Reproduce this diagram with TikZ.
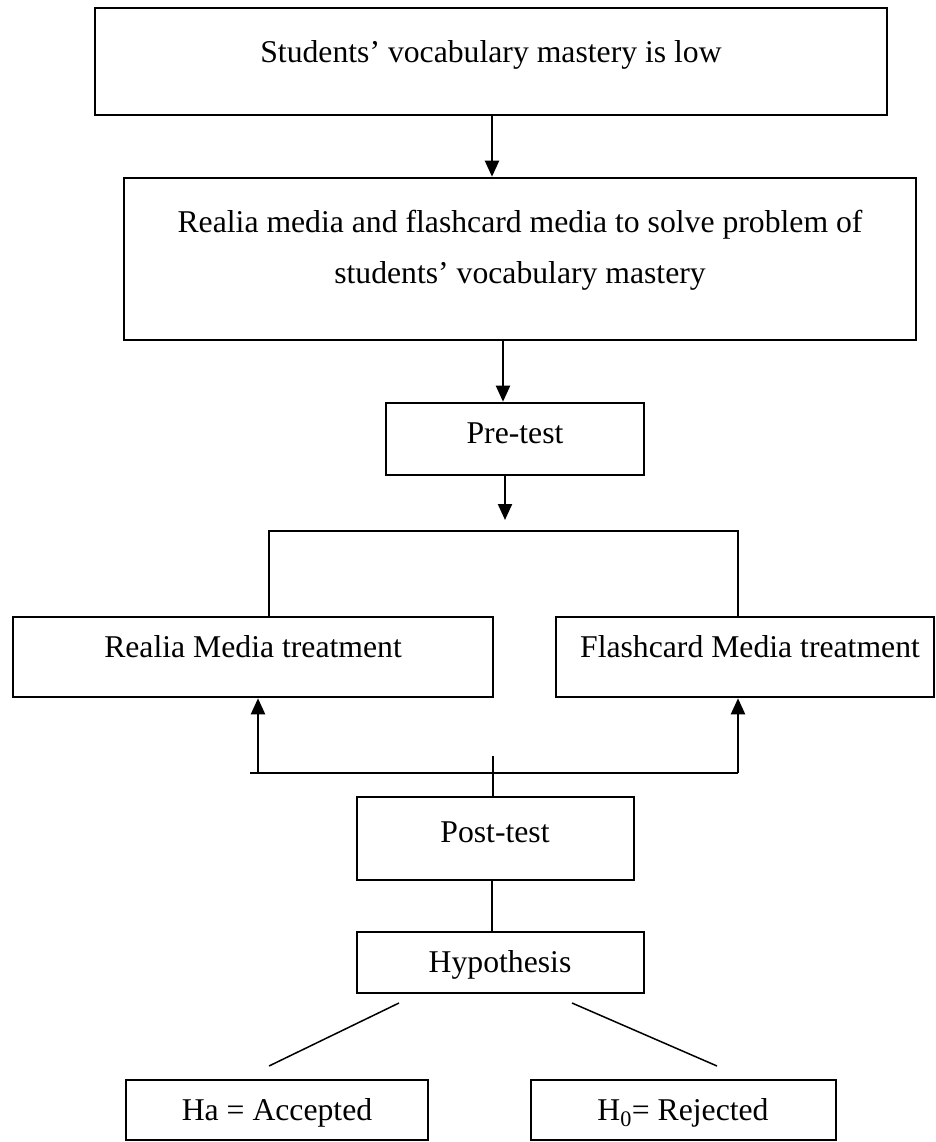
\documentclass[tikz,border=0pt]{standalone}
\usepackage{fontspec}
\setmainfont{Liberation Serif}
\usetikzlibrary{arrows.meta}
\begin{document}
\begin{tikzpicture}[x=1pt,y=-1pt,
  box/.style={draw=black,line width=2.6pt,rectangle,inner sep=0pt},
  txt/.style={anchor=base,inner sep=0pt,font=\fontsize{31.7}{38}\selectfont},
  arr/.style={draw=black,line width=2.2pt,-{Triangle[length=16pt,width=14pt]}},
  ln/.style={draw=black,line width=2pt},
  thinln/.style={draw=black,line width=1.5pt}]
\useasboundingbox (0,0) rectangle (936,1142);
\fill[white] (0,0) rectangle (936,1142);
% boxes
\node[box,minimum width=792pt,minimum height=107pt] (b1) at (491,61.5) {};
\node[box,minimum width=792pt,minimum height=162pt] (b2) at (520,259) {};
\node[box,minimum width=258pt,minimum height=72pt] (pre) at (515,439) {};
\node[box,minimum width=480pt,minimum height=80pt] (real) at (253,657) {};
\node[box,minimum width=378pt,minimum height=80pt] (flash) at (745,657) {};
\node[box,minimum width=277pt,minimum height=83pt] (post) at (495.5,838.5) {};
\node[box,minimum width=287pt,minimum height=61pt] (hyp) at (500.5,962.5) {};
\node[box,minimum width=302pt,minimum height=60pt] (ha) at (277,1110) {};
\node[box,minimum width=305pt,minimum height=60pt] (hn) at (683.5,1110) {};
% texts
\node[txt] (t1) at (491,63) {Students’ vocabulary mastery is low};
\node[txt] (t2a) at (520,232) {Realia media and flashcard media to solve problem of};
\node[txt] (t2b) at (520,283) {students’ vocabulary mastery};
\node[txt] (t3) at (515,443) {Pre-test};
\node[txt] (t4) at (253,657) {Realia Media treatment};
\node[txt] (t5) at (750,657) {Flashcard Media treatment};
\node[txt] (t6) at (495,842) {Post-test};
\node[txt] (t7) at (500,972) {Hypothesis};
\node[txt] (t8) at (277,1120) {Ha = Accepted};
\node[txt] (t9) at (683,1120) {H\textsubscript{0}= Rejected};
% coordinates
\coordinate (a1) at (492,0);
\coordinate (a2) at (503,0);
\coordinate (ptip) at (505,520);
\coordinate (sl) at (269,531);
\coordinate (sr) at (738,531);
\coordinate (ml) at (250,773);
\coordinate (al) at (258,773);
\coordinate (mr) at (738,773);
\coordinate (mt) at (493,756);
\coordinate (a3) at (492,0);
\coordinate (dl1) at (399,1003);
\coordinate (dl2) at (269,1066);
\coordinate (dr1) at (572,1003);
\coordinate (dr2) at (717,1066);
% connectors
\draw[arr] (b1.south -| a1) -- (b2.north -| a1);
\draw[arr] (b2.south -| a2) -- (pre.north -| a2);
\draw[arr] (pre.south -| ptip) -- (ptip);
\draw[ln] (real.north -| sl) -- (sl) -- (sr) -- (flash.north -| sr);
\draw[ln] (ml) -- (mr);
\draw[arr] (al) -- (real.south -| al);
\draw[arr] (mr) -- (flash.south -| mr);
\draw[thinln] (mt) -- (post.north -| mt);
\draw[thinln] (post.south -| a3) -- (hyp.north -| a3);
\draw[thinln] (dl1) -- (dl2);
\draw[thinln] (dr1) -- (dr2);
\end{tikzpicture}
\end{document}
